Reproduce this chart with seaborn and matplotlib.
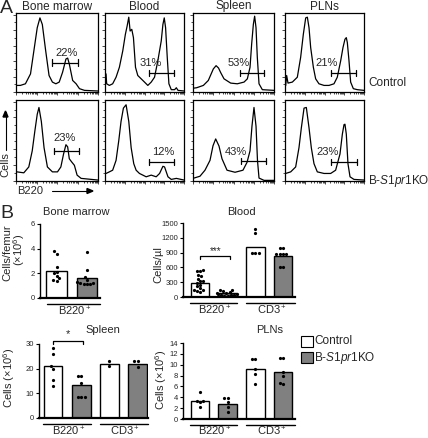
import numpy as np
import pandas as pd
import matplotlib
matplotlib.use('Agg')
import matplotlib.pyplot as plt
import seaborn as sns
from matplotlib.patches import Rectangle

sns.set_theme(style='white')
plt.rcParams['font.family'] = ['Liberation Sans', 'DejaVu Sans']
plt.rcParams['mathtext.fontset'] = 'custom'
plt.rcParams['mathtext.rm'] = 'Liberation Sans'
plt.rcParams['mathtext.it'] = 'Liberation Sans:italic'
plt.rcParams['mathtext.default'] = 'rm'

# ---------------- data: panel A histograms (x, y in % of box) ----------------
tissues = ['Bone marrow', 'Blood', 'Spleen', 'PLNs']
genotypes = ['Control', 'B-$\\mathit{S1pr1}$KO']

bm_ctrl_x = [1.2, 5.3, 11.5, 17.7, 21.8, 25.9, 29.2, 32.1, 36.2, 40.3, 44.4, 48.6, 52.7, 56.8, 60.9, 63, 65, 69.1, 73.3, 77.4, 83.5, 100]
bm_ctrl_y = [8.5, 8.5, 10.6, 23.4, 53.2, 83, 95.7, 87.2, 53.2, 21.3, 12.8, 10.6, 12.8, 25.5, 42.6, 43.8, 36.2, 14.9, 10.6, 4.3, 2.1, 1.3]

blood_ctrl_x = [1.3, 2.1, 5.5, 9.7, 14, 18.2, 22.5, 25.8, 28, 30.1, 31.8, 33.9, 36, 38.6, 41.5, 45.8, 50, 54.2, 58.5, 62.7, 66.9, 71.2, 73.3, 75, 76.7, 78.8, 80.9, 83.9, 88.1, 90.3, 92.4, 100]
blood_ctrl_y = [23.4, 10.6, 8.5, 10.6, 19.1, 31.9, 53.2, 74.5, 85.1, 96.6, 78.7, 80.9, 70.2, 31.9, 21.3, 17, 12.8, 8.5, 12.8, 19.1, 40.4, 66, 87.2, 95.7, 83, 44.7, 10.6, 3, 3, 5.5, 2.1, 1.3]

spleen_ctrl_x = [1, 4.5, 12.8, 18.9, 25.1, 28.5, 31.5, 34.2, 38.3, 46.5, 54.7, 63, 67.1, 70.4, 72.4, 74.5, 76.1, 77.8, 79.4, 81.5, 85.6, 100]
spleen_ctrl_y = [5, 5.5, 8.5, 14.9, 29.8, 34, 31, 25, 17, 11.5, 10.6, 12.8, 17, 31.9, 61.7, 87.2, 97.9, 83, 44.7, 10.6, 3, 2.1]

pln_ctrl_x = [0.8, 2.1, 3.8, 9.3, 15.6, 19.8, 23.2, 26.2, 28.3, 30.4, 32.5, 35.9, 38.8, 43, 49.4, 55.7, 62, 66.2, 70.5, 73.4, 75.9, 77.6, 78.9, 81, 83.1, 86.5, 91.6, 100]
pln_ctrl_y = [8, 21.3, 11.5, 12.8, 19.1, 44.7, 74.5, 95.7, 96.6, 83, 57.4, 31.9, 17, 10.6, 8.5, 8.5, 10.6, 19.1, 40.4, 57.4, 68.1, 70.2, 63.8, 40.4, 12.8, 4.3, 3, 2.1]

bm_ko_x = [1.2, 9.5, 15.6, 19.8, 23, 25.9, 28, 30.9, 34.2, 38.3, 44.4, 50.6, 54.7, 58, 60.9, 63, 65, 67.9, 71.2, 74.5, 79.4, 100]
bm_ko_y = [11.5, 10.3, 17.7, 38, 63, 84, 92.6, 75, 42, 17.7, 11.5, 11.5, 17.7, 34, 45.7, 43, 28, 24, 19.8, 7.4, 3.3, 1.2]

blood_ko_x = [1.3, 5.5, 9.7, 14, 17.4, 20.3, 23.3, 26.7, 30.1, 33.1, 36.4, 39.4, 43.6, 47.9, 52.1, 58.5, 64.8, 69.1, 73.3, 75.4, 79.7, 83.9, 90.3, 100]
blood_ko_y = [9.5, 11.5, 13.6, 26, 50.6, 75, 91.8, 96, 75, 42, 21.8, 13.6, 9.5, 7.4, 5.3, 7.4, 5.3, 9.5, 18.5, 17.7, 5.3, 2, 3.3, 1.2]

spleen_ko_x = [1.2, 8.6, 14.8, 21, 24.7, 28, 32.1, 35.8, 42, 51.9, 61.7, 66.7, 70.4, 72.8, 75.3, 77.8, 79.6, 81.5, 87.7, 100]
spleen_ko_y = [3.7, 6, 13.6, 26, 44.4, 53, 44, 28, 13.6, 11, 13.6, 23.5, 38, 69, 92.6, 69, 26, 3.7, 0.8, 0.8]

pln_ko_x = [0.8, 7.2, 13.5, 17.7, 20.7, 24.1, 27, 30.4, 33.3, 36.7, 40.9, 49.4, 57.8, 64.1, 69.6, 72.6, 74.7, 75.9, 77.6, 79.7, 82.3, 87.3, 100]
pln_ko_y = [9.5, 11.5, 17.7, 42, 67, 91.8, 92.6, 67, 42, 21.8, 11.5, 9.5, 9.5, 13.6, 34, 59, 71, 71.5, 59, 21.8, 5.3, 2, 1.2]

# gates: low, high, level, percentage
gate_lo = [[44.4, 55.5, 58.0, 57.8], [46.5, 55.5, 58.8, 58.6]]
gate_hi = [[75.3, 86.9, 87.6, 89.5], [76.5, 86.9, 89.7, 90.7]]
gate_y = [[38, 24.7, 24.7, 24.7], [37.4, 23.9, 25, 23.9]]
gate_pct = [['22%', '31%', '53%', '21%'], ['23%', '12%', '43%', '23%']]

# ---------------- data: panel B ----------------
cats = ['B220 Control', 'B220 KO', 'CD3 Control', 'CD3 KO']
bm_cats = ['B220 Control', 'B220 KO']

bm_bar = [2.2, 1.6]
bm_ctrl_pts = [3.8, 3.6, 2.5, 2.1, 2.0, 1.8, 1.6, 1.5, 1.4]
bm_ko_pts = [3.7, 2.3, 1.7, 1.5, 1.3, 1.2, 1.2, 1.1, 1.1, 1.1]

blood_bar = [290, 75, 1020, 840]
blood_b_ctrl = [545, 525, 525, 440, 420, 375, 330, 320, 286, 250, 218, 180, 150, 136, 120, 110]
blood_b_ko = [150, 140, 120, 102, 90, 80, 68, 60, 50, 40, 34, 30, 30]
blood_cd3_ctrl = [1377, 1295, 886, 886, 886]
blood_cd3_ko = [988, 988, 866, 866, 866, 866, 600, 600]

spleen_bar = [21, 13.5, 22, 21.7]
spleen_b_ctrl = [28.5, 26, 21, 20, 15.5, 13]
spleen_b_ko = [17.2, 17.0, 14.3, 8.6, 8.4, 8.4]
spleen_cd3_ctrl = [23.0, 21.0]
spleen_cd3_ko = [23.2, 23.2, 20.5]

pln_bar = [3.25, 2.85, 9.3, 8.7]
pln_b_ctrl = [5.0, 3.4, 3.3, 3.2, 2.2]
pln_b_ko = [3.9, 3.9, 3.1, 2.3, 1.3]
pln_cd3_ctrl = [11.0, 11.0, 9.2, 8.3, 6.5]
pln_cd3_ko = [11.3, 11.2, 8.7, 8.0, 6.7, 6.5]

GRAY = '#808080'
palette = {'B220 Control': 'white', 'B220 KO': GRAY, 'CD3 Control': 'white', 'CD3 KO': GRAY}

# ---------------- figure ----------------
W, H = 428, 438
fig = plt.figure(figsize=(W / 100, H / 100), dpi=100)
fig.patch.set_facecolor('white')


def add_ax(x0, y0, x1, y1):
    return fig.add_axes([x0 / W, 1 - y1 / H, (x1 - x0) / W, (y1 - y0) / H])


def ftext(x, y, s, **kw):
    return fig.text(x / W, 1 - y / H, s, **kw)


# ---- Panel A ----
curves = [[(bm_ctrl_x, bm_ctrl_y), (blood_ctrl_x, blood_ctrl_y), (spleen_ctrl_x, spleen_ctrl_y), (pln_ctrl_x, pln_ctrl_y)],
          [(bm_ko_x, bm_ko_y), (blood_ko_x, blood_ko_y), (spleen_ko_x, spleen_ko_y), (pln_ko_x, pln_ko_y)]]
label_pos = [[(61.7, 51), (57.6, 37), (56.8, 38), (52.7, 38)],
             [(58.8, 54.7), (73.3, 36), (52.7, 36), (53.6, 36)]]
cols = [(16, 98), (105, 184), (193, 274), (285, 364)]
rows = [(13, 92), (100, 181)]

xmaj = [0, 25, 50, 75, 100]
xmin = [d * 25 + 25 * np.log10(k) for d in range(4) for k in range(2, 10)]
for r in range(2):
    for c in range(4):
        ax = add_ax(cols[c][0], rows[r][0], cols[c][1], rows[r][1])
        xs, ys = curves[r][c]
        sns.lineplot(x=xs, y=ys, ax=ax, color='black', lw=0.9, sort=False, estimator=None)
        ax.set_xlim(0, 100)
        ax.set_ylim(0, 102)
        lo, hi, gy = gate_lo[r][c], gate_hi[r][c], gate_y[r][c]
        ax.plot([lo, hi], [gy, gy], color='black', lw=0.9)
        ax.plot([lo, lo], [gy - 4, gy + 4], color='black', lw=0.9)
        ax.plot([hi, hi], [gy - 4, gy + 4], color='black', lw=0.9)
        lx, ly = label_pos[r][c]
        ax.text(lx, ly, gate_pct[r][c], ha='center', va='center', fontsize=8)
        for sp in ax.spines.values():
            sp.set_visible(True)
            sp.set_color('black')
            sp.set_linewidth(0.9)
        ax.set_xticks(xmaj)
        ax.set_xticks(xmin, minor=True)
        ax.set_yticks([0, 20, 40, 60, 80, 100])
        ax.set_yticks([10, 30, 50, 70, 90], minor=True)
        ax.tick_params(which='both', direction='out', bottom=True, left=True,
                       labelbottom=False, labelleft=False, color='black', width=0.5)
        ax.tick_params(which='major', length=2)
        ax.tick_params(which='minor', length=1.2)
        ax.set_xlabel('')
        ax.set_ylabel('')
        if r == 0:
            ftext((cols[c][0] + cols[c][1]) / 2, 6.5, tissues[c], ha='center', va='center', fontsize=8.5)

ftext(368, 83, genotypes[0], ha='left', va='center', fontsize=8.5)
ftext(368, 181, genotypes[1], ha='left', va='center', fontsize=8.5)
ftext(0, 0, 'A', ha='left', va='top', fontsize=14)
ftext(0, 205, 'B', ha='left', va='top', fontsize=14)

# axis labels of A
ftext(5.5, 165, 'Cells', rotation=90, ha='center', va='center', fontsize=8)
fig.add_artist(plt.Line2D([5.5 / W, 5.5 / W], [1 - 150 / H, 1 - 112 / H], color='black', lw=0.8))
ftext(17, 191, 'B220', ha='left', va='center', fontsize=8)
fig.add_artist(plt.Line2D([52 / W, 88 / W], [1 - 191 / H, 1 - 191 / H], color='black', lw=0.8))
fig.add_artist(plt.Polygon([[87 / W, 1 - 188.5 / H], [93 / W, 1 - 191 / H], [87 / W, 1 - 193.5 / H]],
                           closed=True, color='black', transform=fig.transFigure))
fig.add_artist(plt.Polygon([[3 / W, 1 - 117 / H], [5.5 / W, 1 - 111 / H], [8 / W, 1 - 117 / H]],
                           closed=True, color='black', transform=fig.transFigure))


# ---- Panel B ----
def bar_panel(box, cat_list, bars, pts, ylim, yticks, xlim, groups):
    ax = add_ax(*box)
    df_bar = pd.DataFrame({'cat': cat_list, 'val': bars})
    sns.barplot(data=df_bar, x='cat', y='val', hue='cat', palette=palette, order=cat_list,
                hue_order=cat_list, width=0.66, edgecolor='black', linewidth=1.0,
                errorbar=None, legend=False, ax=ax)
    df_pts = pd.DataFrame({'cat': np.repeat(cat_list, [len(p) for p in pts]),
                           'val': np.concatenate(pts)})
    sns.swarmplot(data=df_pts, x='cat', y='val', order=cat_list, color='black', size=2.3, ax=ax)
    ax.set_xlim(*xlim)
    ax.set_ylim(*ylim)
    ax.set_yticks(yticks)
    ax.set_yticklabels([str(t) for t in yticks])
    ax.set_xticks([])
    ax.set_xlabel('')
    ax.set_ylabel('')
    for s in ['top', 'right']:
        ax.spines[s].set_visible(False)
    ax.spines['left'].set_linewidth(1.0)
    ax.spines['left'].set_color('black')
    ax.spines['bottom'].set_linewidth(1.6)
    ax.spines['bottom'].set_color('black')
    ax.tick_params(axis='y', which='major', left=True, length=2.5, width=0.8, pad=1,
                   labelsize=5.5, color='black')
    hpx = box[3] - box[1]
    label_off = min(13.0, 431.0 - box[3])
    tr = ax.get_xaxis_transform()
    for (g0, g1, label) in groups:
        ax.plot([g0, g1], [-6 / hpx, -6 / hpx], color='black', lw=1.0, transform=tr, clip_on=False)
        ax.text((g0 + g1) / 2 + 0.05, -label_off / hpx, label, transform=tr, ha='center',
                va='center', fontsize=8)
    return ax


bm_ax = bar_panel((39.5, 224, 100, 298), bm_cats, bm_bar, [bm_ctrl_pts, bm_ko_pts],
                  (0, 6), [0, 2, 4, 6], (-0.56, 1.43), [(-0.31, 1.43, 'B220$^+$')])
blood_ax = bar_panel((183, 223, 295, 297), cats, blood_bar,
                     [blood_b_ctrl, blood_b_ko, blood_cd3_ctrl, blood_cd3_ko],
                     (0, 1500), [0, 300, 600, 900, 1200, 1500], (-0.61, 3.43),
                     [(-0.36, 1.34, 'B220$^+$'), (1.66, 3.43, 'CD3$^+$')])
spleen_ax = bar_panel((39, 344, 148, 418), cats, spleen_bar,
                      [spleen_b_ctrl, spleen_b_ko, spleen_cd3_ctrl, spleen_cd3_ko],
                      (0, 30), [0, 10, 20, 30], (-0.5, 3.37),
                      [(-0.35, 1.35, 'B220$^+$'), (1.66, 3.37, 'CD3$^+$')])
pln_ax = bar_panel((183, 343, 295, 419), cats, pln_bar,
                   [pln_b_ctrl, pln_b_ko, pln_cd3_ctrl, pln_cd3_ko],
                   (0, 14), [0, 2, 4, 6, 8, 10, 12, 14], (-0.61, 3.43),
                   [(-0.36, 1.34, 'B220$^+$'), (1.66, 3.43, 'CD3$^+$')])

# significance brackets
blood_ax.plot([0, 0, 1.1, 1.1], [764, 831, 831, 764], color='black', lw=0.9, clip_on=False)
blood_ax.text(0.55, 930, '***', ha='center', va='center', fontsize=7)
spleen_ax.plot([0, 0, 1.07, 1.07], [29.9, 31.2, 31.2, 29.9], color='black', lw=0.9, clip_on=False)
spleen_ax.text(0.54, 34, '*', ha='center', va='center', fontsize=8)

# titles of B
ftext(76, 212, 'Bone marrow', ha='center', va='center', fontsize=8)
ftext(241, 212, 'Blood', ha='center', va='center', fontsize=8)
ftext(103, 330, 'Spleen', ha='center', va='center', fontsize=8)
ftext(270, 330, 'PLNs', ha='center', va='center', fontsize=8)

# y labels of B
ftext(7.5, 253, 'Cells/femur', rotation=90, ha='center', va='center', fontsize=8)
ftext(19, 250, '(\u00d710$^6$)', rotation=90, ha='center', va='center', fontsize=8)
ftext(158, 265, 'Cells/\u00b5l', rotation=90, ha='center', va='center', fontsize=8)
ftext(9, 378, 'Cells (\u00d710$^6$)', rotation=90, ha='center', va='center', fontsize=8)
ftext(161, 380, 'Cells (\u00d710$^6$)', rotation=90, ha='center', va='center', fontsize=8)

# legend
for (yy, col, lab) in [(336, 'white', 'Control'), (352, GRAY, genotypes[1])]:
    fig.add_artist(Rectangle((301 / W, 1 - (yy + 11) / H), 12 / W, 11 / H, facecolor=col,
                             edgecolor='black', lw=0.8, transform=fig.transFigure))
    ftext(314.5, yy + 5.5, lab, ha='left', va='center', fontsize=8.5)

fig.savefig('out.png', dpi=100)
